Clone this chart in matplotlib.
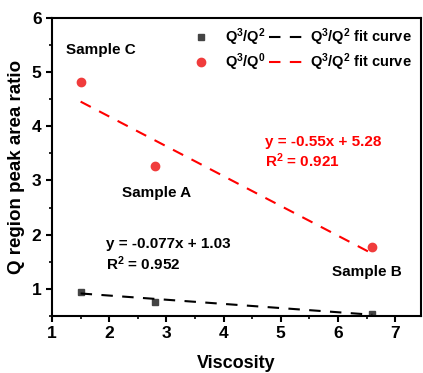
import matplotlib.pyplot as plt

plt.rcParams['font.family'] = ['Liberation Sans', 'DejaVu Sans']
plt.rcParams['font.weight'] = 'bold'
plt.rcParams['mathtext.fontset'] = 'custom'
plt.rcParams['mathtext.rm'] = 'Liberation Sans:bold'
plt.rcParams['mathtext.it'] = 'Liberation Sans:bold'
plt.rcParams['mathtext.bf'] = 'Liberation Sans:bold'
plt.rcParams['mathtext.default'] = 'rm'

viscosity = [1.5, 2.8, 6.6]
q3_q2 = [0.95, 0.75, 0.53]
q3_q0 = [4.81, 3.27, 1.78]
samples = ["Sample C", "Sample A", "Sample B"]

fit_black = (-0.077, 1.03)
fit_red = (-0.55, 5.28)
fit_x = [1.5, 6.6]

fig = plt.figure(figsize=(4.23, 3.73), dpi=100)
ax = fig.add_axes([0.123, 0.153, 0.872, 0.799])

sq, = ax.plot(viscosity, q3_q2, 's', color='#444444', ms=4.5, label=r'Q$^3$/Q$^2$')
ci, = ax.plot(viscosity, q3_q0, 'o', color='#f03c3c', ms=6, label=r'Q$^3$/Q$^0$')
bl, = ax.plot(fit_x, [fit_black[0]*x + fit_black[1] for x in fit_x], '--', color='black',
              lw=1.5, dashes=(5.5, 4.5), label=r'Q$^3$/Q$^2$ fit curve')
rl, = ax.plot(fit_x, [fit_red[0]*x + fit_red[1] for x in fit_x], '--', color='red',
              lw=1.5, dashes=(5.5, 4.5), label=r'Q$^3$/Q$^2$ fit curve')

ax.legend(handles=[sq, ci, bl, rl], ncol=2, loc='upper right', frameon=False,
          fontsize=10.5, handlelength=2.4, columnspacing=0.3, handletextpad=0.4,
          borderaxespad=0.2, labelspacing=0.25, bbox_to_anchor=(1.0, 1.0))

ax.text(1.86, 5.41, samples[0], fontsize=11, ha='center', va='center', weight='bold')
ax.text(2.83, 2.77, samples[1], fontsize=11, ha='center', va='center', weight='bold')
ax.text(6.5, 1.31, samples[2], fontsize=11, ha='center', va='center', weight='bold')

ax.text(1.95, 1.83, 'y = -0.077x + 1.03', fontsize=11, weight='bold', va='center')
ax.text(1.95, 1.46, r'R$^2$ = 0.952', fontsize=11, weight='bold', va='center')
ax.text(4.73, 3.71, 'y = -0.55x + 5.28', fontsize=11, weight='bold', color='red', va='center')
ax.text(4.73, 3.37, r'R$^2$ = 0.921', fontsize=11, weight='bold', color='red', va='center')

ax.set_xlim(1, 7.45)
ax.set_ylim(0.5, 6)
ax.set_xticks([1, 2, 3, 4, 5, 6, 7])
ax.set_yticks([1, 2, 3, 4, 5, 6])
ax.set_xticks([1.5, 2.5, 3.5, 4.5, 5.5, 6.5], minor=True)
ax.set_yticks([0.5, 1.5, 2.5, 3.5, 4.5, 5.5], minor=True)
ax.tick_params(which='major', length=4, width=1.5, labelsize=12.5)
ax.tick_params(which='minor', length=2.5, width=1.2)
for lbl in ax.get_xticklabels() + ax.get_yticklabels():
    lbl.set_fontweight('bold')
for s in ax.spines.values():
    s.set_linewidth(1.5)

ax.set_xlabel('Viscosity', fontsize=13, weight='bold', labelpad=10)
ax.set_ylabel('Q region peak area ratio', fontsize=13.5, weight='bold', labelpad=5)

plt.savefig('out.png', dpi=100)
